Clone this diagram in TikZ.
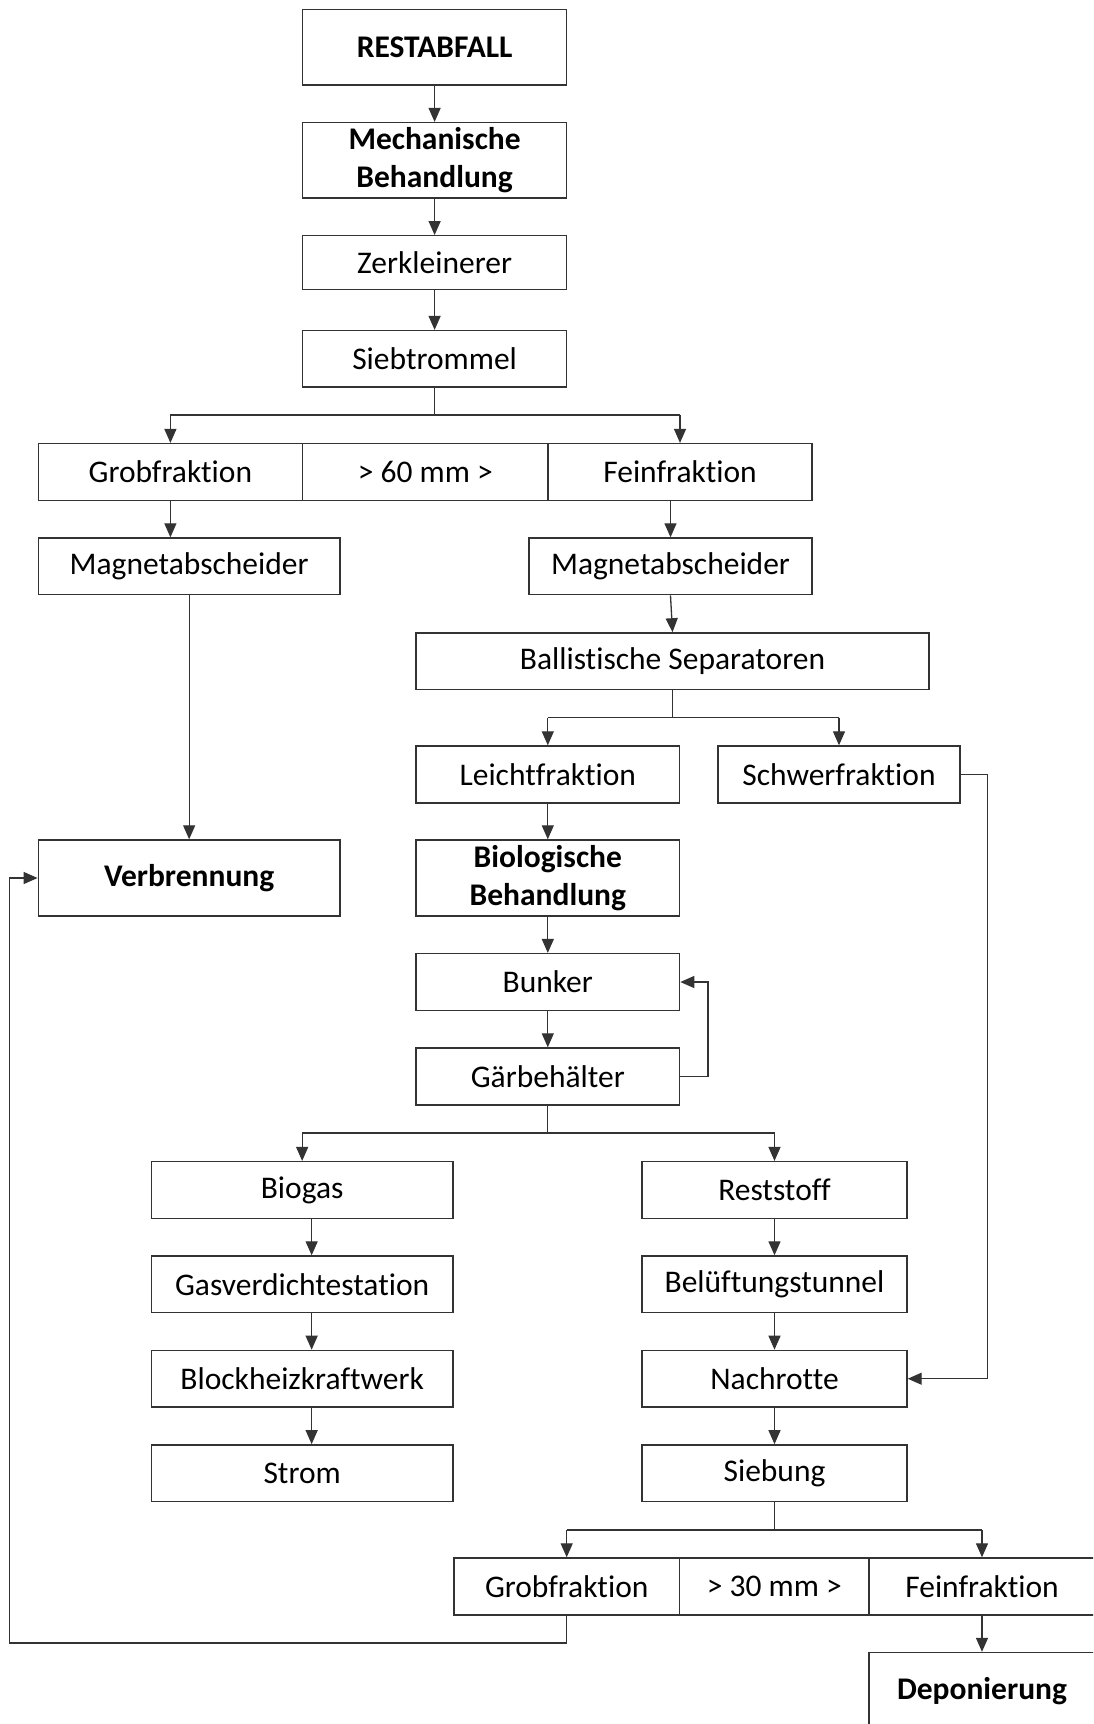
\documentclass[tikz,border=0pt]{standalone}
\usepackage{fontspec}
\setmainfont{Carlito}[RawFeature={-liga;-clig;-calt;-dlig}]
\usetikzlibrary{arrows.meta}
\begin{document}
\begin{tikzpicture}[x=1pt,y=1pt,
  box/.style={draw=black!80, line width=1.4pt, inner sep=0pt, align=center,
    font=\fontsize{31.5}{38.4}\selectfont},
  bbox/.style={box, font=\fontsize{31.5}{38.4}\selectfont\bfseries},
  conn/.style={draw=black!80, line width=1.3pt},
  arr/.style={conn, -{Triangle[length=14pt,width=12pt]}}]
\useasboundingbox (0,0) rectangle (1093,-1724);
\clip (0,0) rectangle (1093,-1724);
\fill[white] (0,0) rectangle (1093,-1724);
% top column
\node[bbox, minimum width=264.2, minimum height=75.5] (rest) at (434.6,-47.25) {RESTABFALL};
\node[bbox, minimum width=264.2, minimum height=75.4] (mech) at (434.6,-160.3) {Mechanische\\Behandlung};
\node[box, minimum width=264.2, minimum height=53.5] (zerk) at (434.6,-262.5) {Zerkleinerer};
\node[box, minimum width=264.2, minimum height=56.4] (sieb) at (434.6,-358.8) {Siebtrommel};
% first screen row
\node[box, minimum width=264.2, minimum height=57] (grob) at (170.4,-472.1) {Grobfraktion};
\node[box, minimum width=245.5, minimum height=57] (mid60) at (425.25,-472.1) {> 60 mm >};
\node[box, minimum width=264, minimum height=57] (fein) at (680,-472.1) {Feinfraktion};
% magnets
\node[box, minimum width=301.7, minimum height=56.7] (magL) at (189.15,-566.35) {Magnetabscheider};
\node[box, minimum width=283, minimum height=56.7] (magR) at (670.5,-566.35) {Magnetabscheider};
\node[box, minimum width=513, minimum height=56.4] (ball) at (672.5,-661.1) {Ballistische Separatoren};
\node[box, minimum width=263.6, minimum height=57] (leicht) at (547.8,-774.5) {Leichtfraktion};
\node[box, minimum width=242, minimum height=57] (schwer) at (839,-774.5) {Schwerfraktion};
\node[bbox, minimum width=301.7, minimum height=76] (verb) at (189.15,-878) {Verbrennung};
\node[bbox, minimum width=263.6, minimum height=76] (bio) at (547.8,-878) {Biologische\\Behandlung};
\node[box, minimum width=263.6, minimum height=56.8] (bunker) at (547.8,-982) {Bunker};
\node[box, minimum width=263.6, minimum height=57] (gaer) at (547.8,-1076.5) {Gärbehälter};
% left column
\node[box, minimum width=301.7, minimum height=56.6] (biogas) at (302.15,-1189.9) {Biogas};
\node[box, minimum width=301.7, minimum height=56.6] (gasv) at (302.15,-1284.3) {Gasverdichtestation};
\node[box, minimum width=301.7, minimum height=56.6] (bhkw) at (302.15,-1378.7) {Blockheizkraftwerk};
\node[box, minimum width=301.7, minimum height=56.6] (strom) at (302.15,-1473.15) {Strom};
% right column
\node[box, minimum width=265, minimum height=56.6] (rstoff) at (774.5,-1189.9) {Reststoff};
\node[box, minimum width=265, minimum height=56.6] (bel) at (774.5,-1284.3) {Belüftungstunnel};
\node[box, minimum width=265, minimum height=56.6] (nach) at (774.5,-1378.7) {Nachrotte};
\node[box, minimum width=265, minimum height=56.6] (siebung) at (774.5,-1473.15) {Siebung};
% second screen row
\node[box, minimum width=225.8, minimum height=57] (grob2) at (566.7,-1586.5) {Grobfraktion};
\node[box, minimum width=189.4, minimum height=57] (mid30) at (774.3,-1586.5) {> 30 mm >};
\node[box, minimum width=226, minimum height=57] (fein2) at (982,-1586.5) {Feinfraktion};
\node[bbox, minimum width=226, minimum height=77.5] (depon) at (982,-1691.25) {Deponierung};
% helper coordinates (branch points)
\coordinate (b1) at (434.6,-415);
\coordinate (b1l) at (grob.north |- b1);
\coordinate (b1r) at (fein.north |- b1);
\coordinate (b2) at (672.5,-717.5);
\coordinate (b2l) at (leicht.north |- b2);
\coordinate (b2r) at (schwer.north |- b2);
\coordinate (b3) at (547.8,-1133);
\coordinate (b3l) at (biogas.north |- b3);
\coordinate (b3r) at (rstoff.north |- b3);
\coordinate (b4) at (774.5,-1530);
\coordinate (b4l) at (grob2.north |- b4);
\coordinate (b4r) at (fein2.north |- b4);
\coordinate (r1) at (987.7,-774.5);
\coordinate (r2) at (708,-1076.5);
\coordinate (fb) at (9.8,-1643);
% connectors
\draw[arr] (rest) -- (mech);
\draw[arr] (mech) -- (zerk);
\draw[arr] (zerk) -- (sieb);
\draw[conn] (sieb.south) -- (b1) (b1l) -- (b1r);
\draw[arr] (b1l) -- (grob.north);
\draw[arr] (b1r) -- (fein.north);
\draw[arr] (grob.south) -- (grob.south |- magL.north);
\draw[arr] (magR.north |- fein.south) -- (magR.north);
\draw[arr] (magR.south) -- (ball.north);
\draw[arr] (magL.south) -- (verb.north);
\draw[conn] (ball.south) -- (b2) (b2l) -- (b2r);
\draw[arr] (b2l) -- (leicht.north);
\draw[arr] (b2r) -- (schwer.north);
\draw[arr] (leicht) -- (bio);
\draw[arr] (bio) -- (bunker);
\draw[arr] (bunker) -- (gaer);
\draw[arr] (schwer.east) -- (r1) |- (nach.east);
\draw[arr] (gaer.east) -- (r2) |- (bunker.east);
\draw[conn] (gaer.south) -- (b3) (b3l) -- (b3r);
\draw[arr] (b3l) -- (biogas.north);
\draw[arr] (b3r) -- (rstoff.north);
\draw[arr] ([xshift=9.5pt]biogas.south) -- ([xshift=9.5pt]gasv.north);
\draw[arr] ([xshift=9.5pt]gasv.south) -- ([xshift=9.5pt]bhkw.north);
\draw[arr] ([xshift=9.5pt]bhkw.south) -- ([xshift=9.5pt]strom.north);
\draw[arr] (rstoff) -- (bel);
\draw[arr] (bel) -- (nach);
\draw[arr] (nach) -- (siebung);
\draw[conn] (siebung.south) -- (b4) (b4l) -- (b4r);
\draw[arr] (b4l) -- (grob2.north);
\draw[arr] (b4r) -- (fein2.north);
\draw[arr] (fein2) -- (depon);
\draw[arr] (grob2.south) |- (fb) |- (verb.west);
\end{tikzpicture}
\end{document}
